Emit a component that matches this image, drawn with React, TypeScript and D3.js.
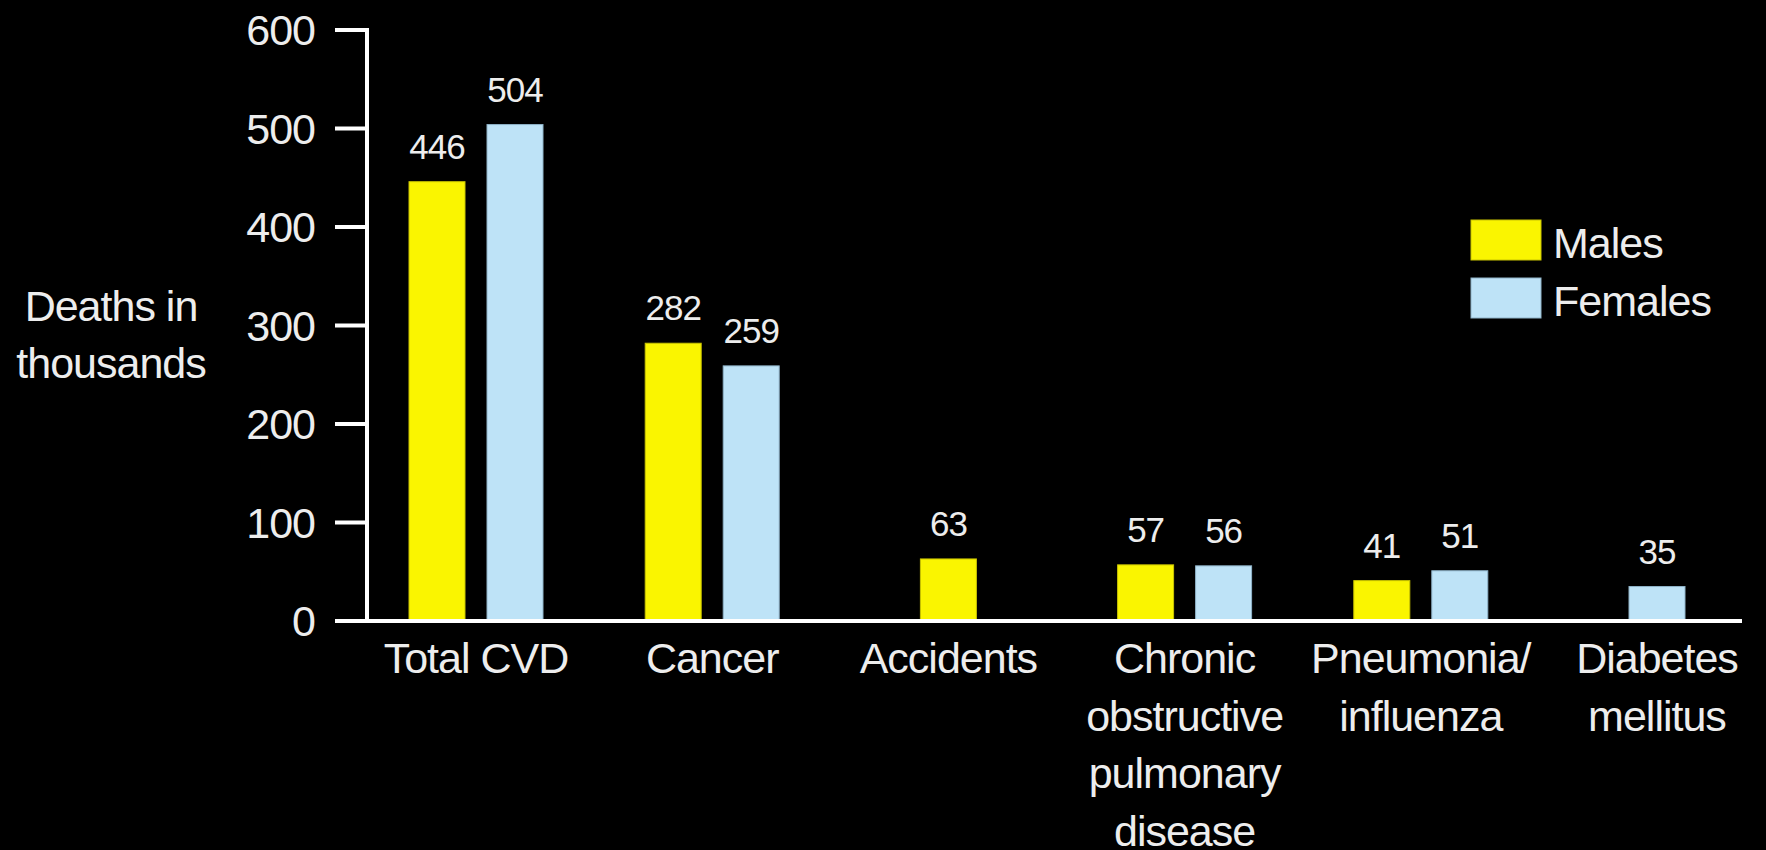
import React, { useEffect, useRef } from "react";
import * as d3 from "d3";

// Leading causes of death by sex (deaths in thousands)
const categories = [
  "Total CVD",
  "Cancer",
  "Accidents",
  "Chronic obstructive pulmonary disease",
  "Pneumonia/ influenza",
  "Diabetes mellitus",
];
const categoryLines: string[][] = [
  ["Total CVD"],
  ["Cancer"],
  ["Accidents"],
  ["Chronic", "obstructive", "pulmonary", "disease"],
  ["Pneumonia/", "influenza"],
  ["Diabetes", "mellitus"],
];
const males: (number | null)[] = [446, 282, 63, 57, 41, null];
const females: (number | null)[] = [504, 259, null, 56, 51, 35];
const seriesNames = ["Males", "Females"];
const seriesColors = ["#faf500", "#bee3f7"];
const seriesStrokes = ["#c9c400", "#8fb3c8"];
const yTicks = [0, 100, 200, 300, 400, 500, 600];
const yLabel = ["Deaths in", "thousands"];

const W = 1766;
const H = 850;
const FONT = "'Liberation Sans', Arial, Helvetica, sans-serif";
const TEXT = "#ededed";

export default function App() {
  const ref = useRef<SVGSVGElement | null>(null);

  useEffect(() => {
    document.body.style.margin = "0";
    document.body.style.background = "#000";
    const svg = d3.select(ref.current);
    svg.selectAll("*").remove();

    svg.append("rect").attr("width", W).attr("height", H).attr("fill", "#000");

    const axisX = 367;
    const y = d3.scaleLinear().domain([0, 600]).range([621, 30]);
    const x = d3.scalePoint<string>().domain(categories).range([476, 1657]);
    const barW = 56;
    const offset = 39;

    // bars
    const series = [males, females];
    categories.forEach((cat, i) => {
      const present = series
        .map((s, si) => ({ v: s[i], si }))
        .filter((d) => d.v !== null) as { v: number; si: number }[];
      const cx = x(cat)!;
      present.forEach((d) => {
        const bx = present.length === 1 ? cx : cx + (d.si === 0 ? -offset : offset);
        svg
          .append("rect")
          .attr("x", bx - barW / 2)
          .attr("y", y(d.v))
          .attr("width", barW)
          .attr("height", y(0) - y(d.v))
          .attr("fill", seriesColors[d.si])
          .attr("stroke", seriesStrokes[d.si])
          .attr("stroke-width", 1);
        svg
          .append("text")
          .attr("x", bx)
          .attr("y", y(d.v) - 23)
          .attr("text-anchor", "middle")
          .attr("font-family", FONT)
          .attr("font-size", 35)
          .attr("letter-spacing", "-1px")
          .attr("fill", TEXT)
          .text(String(d.v));
      });
    });

    // y axis
    const axisG = svg.append("g");
    axisG
      .append("line")
      .attr("x1", axisX)
      .attr("x2", axisX)
      .attr("y1", y(600) - 2)
      .attr("y2", y(0))
      .attr("stroke", "#fff")
      .attr("stroke-width", 4);
    yTicks.forEach((t) => {
      axisG
        .append("line")
        .attr("x1", 335)
        .attr("x2", axisX + 2)
        .attr("y1", y(t))
        .attr("y2", y(t))
        .attr("stroke", "#fff")
        .attr("stroke-width", 4);
      axisG
        .append("text")
        .attr("x", 315)
        .attr("y", y(t) + 15)
        .attr("text-anchor", "end")
        .attr("font-family", FONT)
        .attr("font-size", 43)
        .attr("letter-spacing", "-1px")
        .attr("fill", TEXT)
        .text(String(t));
    });

    // baseline
    svg
      .append("line")
      .attr("x1", 335)
      .attr("x2", 1742)
      .attr("y1", y(0))
      .attr("y2", y(0))
      .attr("stroke", "#fff")
      .attr("stroke-width", 4);

    // y label
    yLabel.forEach((line, i) => {
      svg
        .append("text")
        .attr("x", 111)
        .attr("y", 321 + i * 57)
        .attr("text-anchor", "middle")
        .attr("font-family", FONT)
        .attr("font-size", 43)
        .attr("letter-spacing", "-1px")
        .attr("fill", TEXT)
        .text(line);
    });

    // category labels
    categories.forEach((cat, i) => {
      categoryLines[i].forEach((line, j) => {
        svg
          .append("text")
          .attr("x", x(cat)!)
          .attr("y", 673 + j * 57.5)
          .attr("text-anchor", "middle")
          .attr("font-family", FONT)
          .attr("font-size", 43)
          .attr("letter-spacing", "-1px")
          .attr("fill", TEXT)
          .text(line);
      });
    });

    // legend
    seriesNames.forEach((name, i) => {
      const ly = 220 + i * 58;
      svg
        .append("rect")
        .attr("x", 1471)
        .attr("y", ly)
        .attr("width", 70)
        .attr("height", 40)
        .attr("fill", seriesColors[i])
        .attr("stroke", seriesStrokes[i])
        .attr("stroke-width", 1);
      svg
        .append("text")
        .attr("x", 1553)
        .attr("y", ly + 38)
        .attr("font-family", FONT)
        .attr("font-size", 43)
        .attr("letter-spacing", "-1px")
        .attr("fill", TEXT)
        .text(name);
    });
  }, []);

  return <svg ref={ref} width={W} height={H} style={{ display: "block" }} />;
}
